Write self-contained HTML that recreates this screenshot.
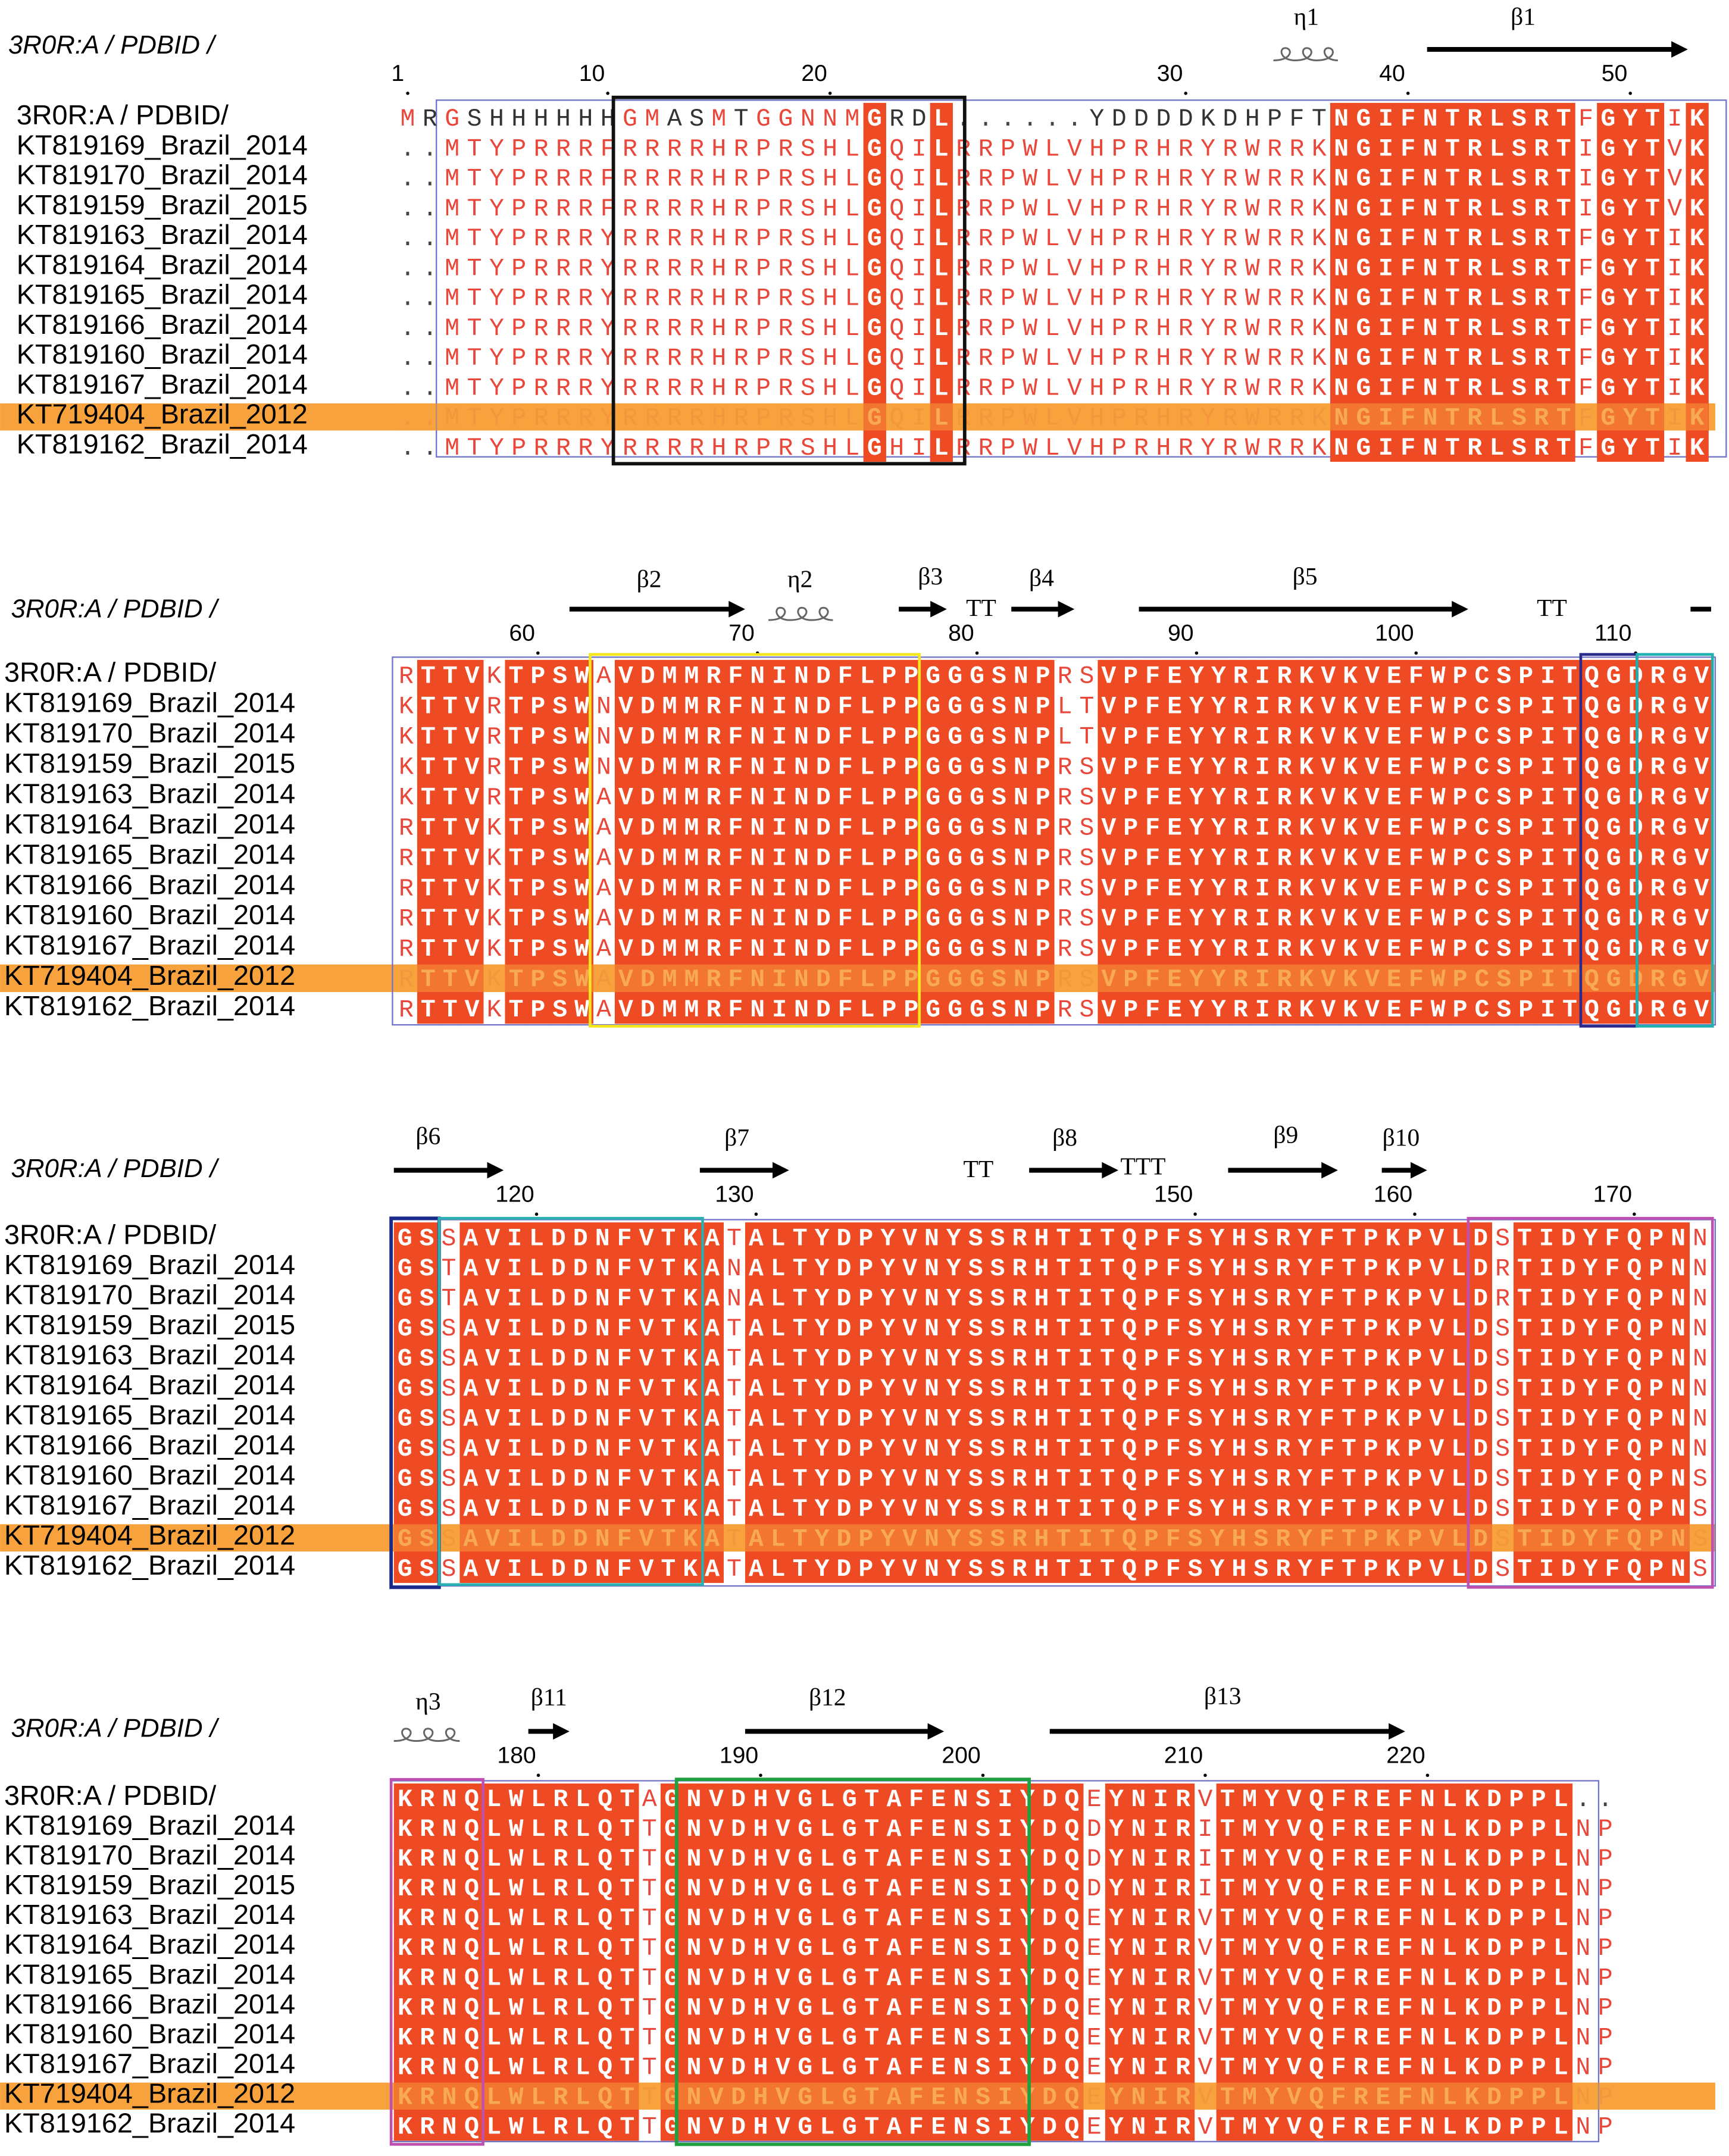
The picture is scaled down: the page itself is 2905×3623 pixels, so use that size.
<!DOCTYPE html>
<html><head><meta charset="utf-8">
<style>
html,body{margin:0;padding:0;background:#fff;}
svg{display:block;}
.lab{font-family:"Liberation Sans",sans-serif;font-size:20.3px;fill:#000;}
.hdr{font-family:"Liberation Sans",sans-serif;font-size:19px;font-style:italic;fill:#000;}
.num{font-family:"Liberation Sans",sans-serif;font-size:17px;fill:#000;text-anchor:start;}
.ss{font-family:"Liberation Serif",serif;font-size:18px;fill:#000;text-anchor:middle;}
.res{font-family:"Liberation Mono",monospace;font-size:18px;text-anchor:middle;}
</style></head>
<body>
<svg id="fig" width="2905" height="3623" viewBox="0 0 1260 1571.5" xmlns="http://www.w3.org/2000/svg"></svg>
<script>
const names=["3R0R:A / PDBID/","KT819169_Brazil_2014","KT819170_Brazil_2014","KT819159_Brazil_2015","KT819163_Brazil_2014","KT819164_Brazil_2014","KT819165_Brazil_2014","KT819166_Brazil_2014","KT819160_Brazil_2014","KT819167_Brazil_2014","KT719404_Brazil_2012","KT819162_Brazil_2014"];
const highlightRow=10;
const seqBlock1=[
"MRGSHHHHHHGMASMTGGNNMGRDL......YDDDDKDHPFTNGIFNTRLSRTFGYTIK",
"..MTYPRRRFRRRRHRPRSHLGQILRRPWLVHPRHRYRWRRKNGIFNTRLSRTIGYTVK",
"..MTYPRRRFRRRRHRPRSHLGQILRRPWLVHPRHRYRWRRKNGIFNTRLSRTIGYTVK",
"..MTYPRRRFRRRRHRPRSHLGQILRRPWLVHPRHRYRWRRKNGIFNTRLSRTIGYTVK",
"..MTYPRRRYRRRRHRPRSHLGQILRRPWLVHPRHRYRWRRKNGIFNTRLSRTFGYTIK",
"..MTYPRRRYRRRRHRPRSHLGQILRRPWLVHPRHRYRWRRKNGIFNTRLSRTFGYTIK",
"..MTYPRRRYRRRRHRPRSHLGQILRRPWLVHPRHRYRWRRKNGIFNTRLSRTFGYTIK",
"..MTYPRRRYRRRRHRPRSHLGQILRRPWLVHPRHRYRWRRKNGIFNTRLSRTFGYTIK",
"..MTYPRRRYRRRRHRPRSHLGQILRRPWLVHPRHRYRWRRKNGIFNTRLSRTFGYTIK",
"..MTYPRRRYRRRRHRPRSHLGQILRRPWLVHPRHRYRWRRKNGIFNTRLSRTFGYTIK",
"..MTYPRRRYRRRRHRPRSHLGQILRRPWLVHPRHRYRWRRKNGIFNTRLSRTFGYTIK",
"..MTYPRRRYRRRRHRPRSHLGHILRRPWLVHPRHRYRWRRKNGIFNTRLSRTFGYTIK"];
const seqBlock2=[
"RTTVKTPSWAVDMMRFNINDFLPPGGGSNPRSVPFEYYRIRKVKVEFWPCSPITQGDRGV",
"KTTVRTPSWNVDMMRFNINDFLPPGGGSNPLTVPFEYYRIRKVKVEFWPCSPITQGDRGV",
"KTTVRTPSWNVDMMRFNINDFLPPGGGSNPLTVPFEYYRIRKVKVEFWPCSPITQGDRGV",
"KTTVRTPSWNVDMMRFNINDFLPPGGGSNPRSVPFEYYRIRKVKVEFWPCSPITQGDRGV",
"KTTVRTPSWAVDMMRFNINDFLPPGGGSNPRSVPFEYYRIRKVKVEFWPCSPITQGDRGV",
"RTTVKTPSWAVDMMRFNINDFLPPGGGSNPRSVPFEYYRIRKVKVEFWPCSPITQGDRGV",
"RTTVKTPSWAVDMMRFNINDFLPPGGGSNPRSVPFEYYRIRKVKVEFWPCSPITQGDRGV",
"RTTVKTPSWAVDMMRFNINDFLPPGGGSNPRSVPFEYYRIRKVKVEFWPCSPITQGDRGV",
"RTTVKTPSWAVDMMRFNINDFLPPGGGSNPRSVPFEYYRIRKVKVEFWPCSPITQGDRGV",
"RTTVKTPSWAVDMMRFNINDFLPPGGGSNPRSVPFEYYRIRKVKVEFWPCSPITQGDRGV",
"RTTVKTPSWAVDMMRFNINDFLPPGGGSNPRSVPFEYYRIRKVKVEFWPCSPITQGDRGV",
"RTTVKTPSWAVDMMRFNINDFLPPGGGSNPRSVPFEYYRIRKVKVEFWPCSPITQGDRGV"];
const seqBlock3=[
"GSSAVILDDNFVTKATALTYDPYVNYSSRHTITQPFSYHSRYFTPKPVLDSTIDYFQPNN",
"GSTAVILDDNFVTKANALTYDPYVNYSSRHTITQPFSYHSRYFTPKPVLDRTIDYFQPNN",
"GSTAVILDDNFVTKANALTYDPYVNYSSRHTITQPFSYHSRYFTPKPVLDRTIDYFQPNN",
"GSSAVILDDNFVTKATALTYDPYVNYSSRHTITQPFSYHSRYFTPKPVLDSTIDYFQPNN",
"GSSAVILDDNFVTKATALTYDPYVNYSSRHTITQPFSYHSRYFTPKPVLDSTIDYFQPNN",
"GSSAVILDDNFVTKATALTYDPYVNYSSRHTITQPFSYHSRYFTPKPVLDSTIDYFQPNN",
"GSSAVILDDNFVTKATALTYDPYVNYSSRHTITQPFSYHSRYFTPKPVLDSTIDYFQPNN",
"GSSAVILDDNFVTKATALTYDPYVNYSSRHTITQPFSYHSRYFTPKPVLDSTIDYFQPNN",
"GSSAVILDDNFVTKATALTYDPYVNYSSRHTITQPFSYHSRYFTPKPVLDSTIDYFQPNS",
"GSSAVILDDNFVTKATALTYDPYVNYSSRHTITQPFSYHSRYFTPKPVLDSTIDYFQPNS",
"GSSAVILDDNFVTKATALTYDPYVNYSSRHTITQPFSYHSRYFTPKPVLDSTIDYFQPNS",
"GSSAVILDDNFVTKATALTYDPYVNYSSRHTITQPFSYHSRYFTPKPVLDSTIDYFQPNS"];
const seqBlock4=[
"KRNQLWLRLQTAGNVDHVGLGTAFENSIYDQEYNIRVTMYVQFREFNLKDPPL..",
"KRNQLWLRLQTTGNVDHVGLGTAFENSIYDQDYNIRITMYVQFREFNLKDPPLNP",
"KRNQLWLRLQTTGNVDHVGLGTAFENSIYDQDYNIRITMYVQFREFNLKDPPLNP",
"KRNQLWLRLQTTGNVDHVGLGTAFENSIYDQDYNIRITMYVQFREFNLKDPPLNP",
"KRNQLWLRLQTTGNVDHVGLGTAFENSIYDQEYNIRVTMYVQFREFNLKDPPLNP",
"KRNQLWLRLQTTGNVDHVGLGTAFENSIYDQEYNIRVTMYVQFREFNLKDPPLNP",
"KRNQLWLRLQTTGNVDHVGLGTAFENSIYDQEYNIRVTMYVQFREFNLKDPPLNP",
"KRNQLWLRLQTTGNVDHVGLGTAFENSIYDQEYNIRVTMYVQFREFNLKDPPLNP",
"KRNQLWLRLQTTGNVDHVGLGTAFENSIYDQEYNIRVTMYVQFREFNLKDPPLNP",
"KRNQLWLRLQTTGNVDHVGLGTAFENSIYDQEYNIRVTMYVQFREFNLKDPPLNP",
"KRNQLWLRLQTTGNVDHVGLGTAFENSIYDQEYNIRVTMYVQFREFNLKDPPLNP",
"KRNQLWLRLQTTGNVDHVGLGTAFENSIYDQEYNIRVTMYVQFREFNLKDPPLNP"];
const tickNums1=[1,10,20,30,40,50];
const tickNums2=[60,70,80,90,100,110];
const tickNums3=[120,130,150,160,170];
const tickNums4=[180,190,200,210,220];

const NS="http://www.w3.org/2000/svg";
const svg=document.getElementById('fig');
function mk(tag,attrs,parent){const e=document.createElementNS(NS,tag);for(const k in attrs)e.setAttribute(k,attrs[k]);(parent||svg).appendChild(e);return e;}

const blocks=[
 {seqs:seqBlock1,x0:289,w:16.2,t0:75,h:21.8,hdrY:39,hdrX:6,labX:12,numY:59,ticks:tickNums1,frame:[318,73,1258,333]},
 {seqs:seqBlock2,x0:288,w:16.0,t0:481,h:22.1,hdrY:450,hdrX:8,labX:3,numY:467,ticks:tickNums2,frame:[286,479,1250,747]},
 {seqs:seqBlock3,x0:287,w:16.0,t0:891,h:21.9,hdrY:858,hdrX:8,labX:3,numY:876,ticks:tickNums3,frame:[285,889,1250,1156]},
 {seqs:seqBlock4,x0:287,w:16.2,t0:1300,h:21.7,hdrY:1266,hdrX:8,labX:3,numY:1285,ticks:tickNums4,frame:[285,1298,1165,1561]}
];
const RED="#ee4a24";
let resStart=1;
blocks.forEach((b,bi)=>{
  const g=mk('g',{});
  
  
  const hd=mk('text',{x:b.hdrX,y:b.hdrY,class:'hdr'},g);hd.textContent='3R0R:A / PDBID /';
  
  
  const colX=c=>b.x0+c*b.w;
  const rowY=r=>b.t0+r*b.h;
  const n=b.seqs[0].length;
  // reference numbering: residue number -> column index
  const refCol={};let rn=resStart;
  for(let c=0;c<n;c++){if(b.seqs[0][c]!=='.'){refCol[rn]=c;rn++;}}
  const hb=mk('rect',{x:0,y:rowY(highlightRow)+1,width:1250,height:b.h-2,fill:'#f7a23c'},g);
  
  
  const f=b.frame;
  mk('rect',{x:f[0],y:f[1],width:f[2]-f[0],height:f[3]-f[1],fill:'none',stroke:'#6f74c8','stroke-width':1},g);
  for(let c=0;c<n;c++){
    const col=b.seqs.map(s=>s[c]);
    const cons=col.every(ch=>ch===col[0]&&ch!=='.');
    if(cons){
      const r=mk('rect',{x:colX(c),y:rowY(0),width:b.w+0.4,height:b.h*b.seqs.length,fill:RED},g);
      
      
    }
    b.seqs.forEach((s,ri)=>{
      const ch=s[c];
      let fill=cons?'#fff':(ch==='.'?'#444':(ri===0&&bi===0&&c<42&&!'GNM'.includes(ch)?'#333':'#e8473a'));
      if(ri===highlightRow)fill=cons?'#f9b070':'#f08a3a';
      const t=mk('text',{x:colX(c)+b.w/2,y:rowY(ri)+b.h*0.76,class:'res',fill:fill,'font-weight':cons?'bold':'normal'},g);
      t.textContent=ch;
    });
  }
  mk('rect',{x:b.x0,y:rowY(highlightRow)+1,width:n*b.w,height:b.h-2,fill:'#f7a23c',opacity:0.5},g);
  names.forEach((nm,ri)=>{
    const t=mk('text',{x:b.labX,y:rowY(ri)+b.h*0.72,class:'lab'},g);t.textContent=nm;
    
    
  });
  b.ticks.forEach(v=>{
    const c=refCol[v];
    if(c===undefined)return;
    const x=colX(c)+b.w/2;
    const digits=String(v).length;
    const t=mk('text',{x:x-12-9*(digits-1),y:b.numY,class:'num'},g);t.textContent=v;
    
    
    mk('circle',{cx:x,cy:b.numY+9,r:1.2,fill:'#000'},g);
  });
  resStart=rn;
});
const boxes=[[447,71,703,338,'#111',2.5],[430,477,670,748,'#f5e61e',2],[1152,477,1193,748,'#2a2a8a',2],[1193,477,1248,748,'#20b0b0',2],
[285,888,320,1157,'#1a2a8a',2.5],[320,888,512,1155,'#2ab0b0',2],[1070,888,1248,1157,'#c050b0',2],
[285,1297,352,1563,'#c050b0',2],[493,1297,750,1563,'#20a040',2.5]];
boxes.forEach(b=>{const r=mk('rect',{x:b[0],y:b[1],width:b[2]-b[0],height:b[3]-b[1],fill:'none',stroke:b[4],'stroke-width':b[5]});

});
function arrow(x1,x2,y){mk('line',{x1:x1,y1:y,x2:x2-10,y2:y,stroke:'#000','stroke-width':3.5});mk('polygon',{points:`${x2-12},${y-6} ${x2},${y} ${x2-12},${y+6}`,fill:'#000'});}
function helix(x1,x2,y){let d=`M${x1},${y}`;const n=3,w=(x2-x1)/n;
 for(let i=0;i<n;i++){const a=x1+i*w;d+=` C${a+w*0.9},${y} ${a+w*0.9},${y-9} ${a+w*0.55},${y-9} C${a+w*0.25},${y-9} ${a+w*0.3},${y} ${a+w},${y}`;}
 mk('path',{d:d,fill:'none',stroke:'#666','stroke-width':1.3});}
function lbl(x,y,s){const t=mk('text',{x:x,y:y,class:'ss'});t.textContent=s;}
lbl(952,18,'η1');helix(928,975,44);lbl(1110,18,'β1');arrow(1040,1230,36);
lbl(473,428,'β2');arrow(415,543,444);lbl(583,428,'η2');helix(560,607,452);lbl(678,426,'β3');arrow(655,690,444);lbl(715,449,'TT');
lbl(759,427,'β4');arrow(737,783,444);lbl(951,426,'β5');arrow(830,1070,444);lbl(1131,449,'TT');
mk('line',{x1:1232,y1:444,x2:1247,y2:444,stroke:'#000','stroke-width':3.5});
lbl(312,834,'β6');arrow(287,367,853);lbl(537,835,'β7');arrow(510,575,853);lbl(713,858,'TT');lbl(776,835,'β8');arrow(750,815,853);
lbl(833,856,'TTT');lbl(937,833,'β9');arrow(895,975,853);lbl(1021,835,'β10');arrow(1007,1040,853);
lbl(312,1246,'η3');helix(287,335,1269);lbl(400,1243,'β11');arrow(385,415,1262);lbl(603,1243,'β12');arrow(543,688,1262);lbl(891,1242,'β13');arrow(765,1024,1262);
</script>
</body></html>
